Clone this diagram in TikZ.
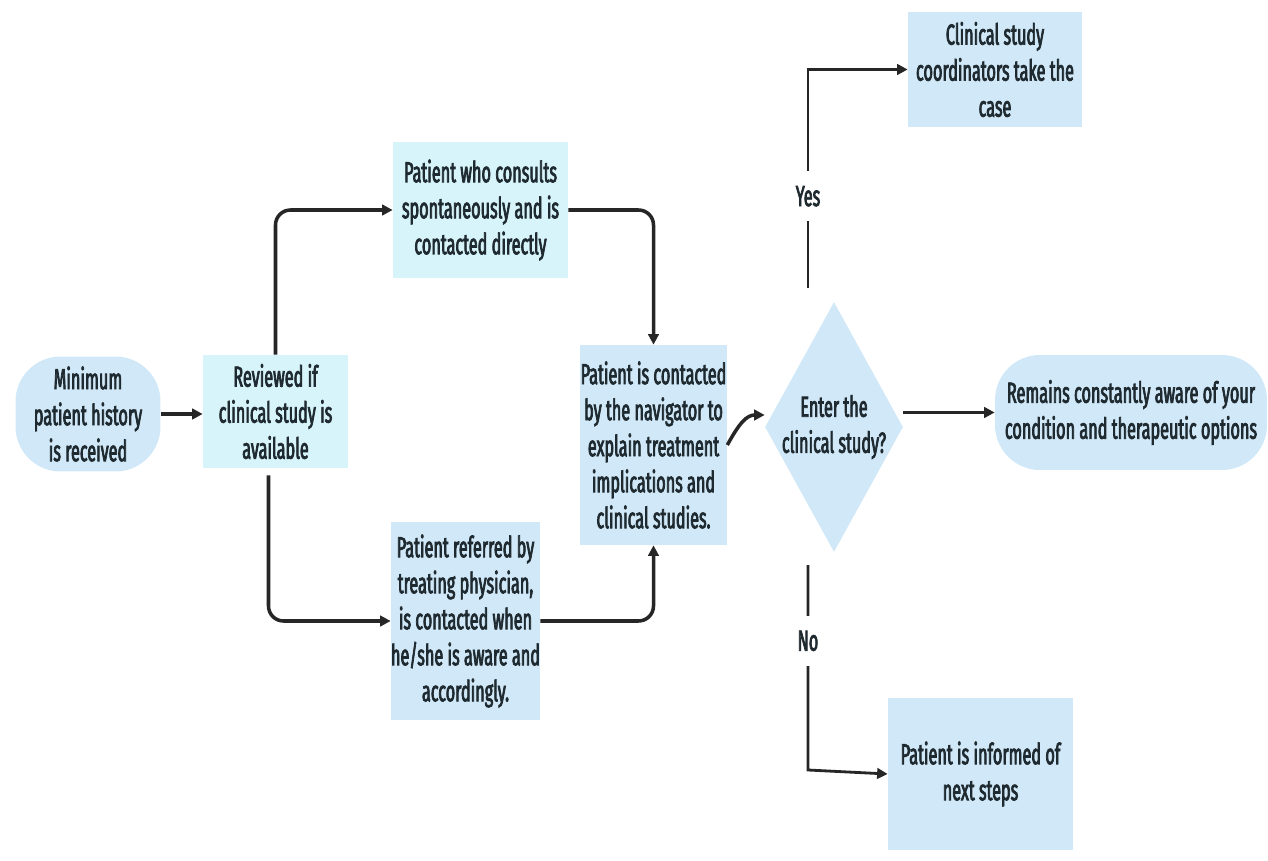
\documentclass[tikz,border=0pt]{standalone}
\usepackage{fontspec}
\setmainfont{Fira Sans}[FakeStretch=0.56,FakeBold=2.5]
\usetikzlibrary{arrows.meta,positioning,shapes.geometric,calc}
\definecolor{boxblue}{HTML}{D0E8F7}
\definecolor{boxcyan}{HTML}{D6F4FA}
\definecolor{textdark}{HTML}{1F2A30}
\tikzset{
    box/.style={fill=#1,inner sep=0pt,align=center,text=textdark},
    box/.default=boxcyan,
    round box/.style={box=boxblue,rounded corners=0.9cm},
    decision/.style={diamond,fill=boxblue,inner xsep=-0.3cm,inner ysep=0pt,align=center,text=textdark},
    arr/.style={-{Triangle[length=6pt,width=6pt]},line width=2pt,black!85},
    bend arr/.style={arr,rounded corners=0.3cm},
    branch arr/.style={arr,line width=1.6pt},
    answer/.style={fill=white,inner xsep=2pt,inner ysep=0.3cm,text=textdark},
}
\tikzstyle{every node}=[font=\fontsize{16.5}{20.5}\selectfont]

\begin{document}
\begin{tikzpicture}[x=0.02cm,y=-0.02cm]
    \useasboundingbox (0,0) rectangle (1268,861);

    \node[round box,minimum width=2.9cm,minimum height=2.3cm] (history) at (88,414)
        {Minimum\\patient history\\is received};
    \node[box,minimum width=2.9cm,minimum height=2.26cm] (review) at (275.5,411.5)
        {Reviewed if\\clinical study is\\available};
    \node[box,minimum width=3.5cm,minimum height=2.72cm] (direct) at (480.5,210)
        {Patient who consults\\spontaneously and is\\contacted directly};
    \node[box=boxblue,minimum width=2.9cm,minimum height=3.96cm] (referred) at (465.5,621)
        {Patient referred by\\treating physician,\\is contacted when\\he/she is aware and\\accordingly.};
    \node[box=boxblue,minimum width=2.94cm,minimum height=4cm] (navigator) at (653.5,445)
        {Patient is contacted\\by the navigator to\\explain treatment\\implications and\\clinical studies.};
    \node[decision,minimum width=2.5cm,minimum height=5cm] (enter) at (834,427)
        {Enter the\\clinical study?};
    \node[box=boxblue,minimum width=3.48cm,minimum height=2.3cm] (coord) at (995,69.5)
        {Clinical study\\coordinators take the\\case};
    \node[round box,minimum width=5.44cm,minimum height=2.3cm] (aware) at (1131,412.5)
        {Remains constantly aware of your\\condition and therapeutic options};
    \node[box=boxblue,minimum width=3.7cm,minimum height=3.04cm] (informed) at (980.5,774)
        {Patient is informed of\\next steps};

    \coordinate (yes start) at (808,288);
    \coordinate (yes turn) at (yes start |- coord.west);
    \coordinate (no start) at (808,565);
    \coordinate (no turn) at (808,770);

    \draw[arr] (history.east) -- (history.east -| review.west);
    \draw[bend arr] (review.north) |- (direct.west);
    \draw[bend arr] ($(review.south)+(-7,7)$) |- (referred.west);
    \draw[bend arr] (direct.east) -| (navigator.north);
    \draw[bend arr] (referred.east) -| (navigator.south);
    \draw[arr] (navigator.east) .. controls +(12,-22) and +(-18,0) .. ($(enter.west)+(0,-12)$);
    \draw[arr] (enter.east |- aware.west) -- (aware.west);
    \draw[branch arr] (yes start) -- node[answer,pos=.42] {Yes} (yes turn) -- (coord.west);
    \draw[branch arr] (no start) -- node[answer,pos=.37] {No} (no turn) -- (informed.west);
\end{tikzpicture}
\end{document}
